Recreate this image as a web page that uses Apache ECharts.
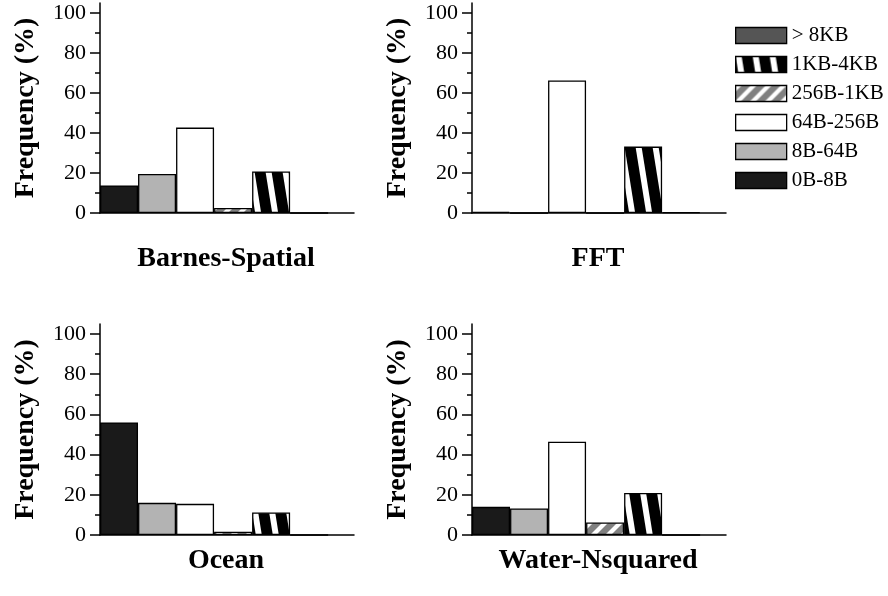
<!DOCTYPE html>
<html>
<head>
<meta charset="utf-8">
<title>Frequency by size class</title>
<script src="https://cdn.jsdelivr.net/npm/echarts@6/dist/echarts.min.js"></script>
<style>
  html, body { margin: 0; padding: 0; background: #fff; }
  #box { width: 888px; height: 596px; }
</style>
</head>
<body>
<div id="box"></div>
<script>
// size classes, in bar order (left to right)
var sizeClasses = ['0B-8B', '8B-64B', '64B-256B', '256B-1KB', '1KB-4KB', '> 8KB'];
// legend lists them top to bottom the other way round
var legendOrder = ['> 8KB', '1KB-4KB', '256B-1KB', '64B-256B', '8B-64B', '0B-8B'];

// frequency (%) per benchmark, same order as sizeClasses
var barnesSpatial = [13.8, 19.5, 42.7, 2.5, 20.8, 0];
var fft = [0.6, 0, 66.3, 0, 33.2, 0.3];
var ocean = [56, 16, 15.5, 1.6, 11.2, 0];
var waterNsquared = [14, 13.2, 46.4, 6.2, 20.9, 0];

var benchNames = ['Barnes-Spatial', 'FFT', 'Ocean', 'Water-Nsquared'];
var benchData = [barnesSpatial, fft, ocean, waterNsquared];

var yLabels = [0, 20, 40, 60, 80, 100];
var yMinorTicks = [10, 30, 50, 70, 90];

var FONT = 'Liberation Serif';

// striped fill, dir '/' or '\\'
function stripes(bg, fg, w, h, s, dir) {
    var c = document.createElement('canvas');
    c.width = w; c.height = h;
    var ctx = c.getContext('2d');
    ctx.fillStyle = bg;
    ctx.fillRect(0, 0, w, h);
    ctx.fillStyle = fg;
    [-w, 0].forEach(function (a) {
        ctx.beginPath();
        if (dir === '/') {
            ctx.moveTo(a, h); ctx.lineTo(a + s, h);
            ctx.lineTo(a + s + w, 0); ctx.lineTo(a + w, 0);
        } else {
            ctx.moveTo(a, 0); ctx.lineTo(a + s, 0);
            ctx.lineTo(a + s + w, h); ctx.lineTo(a + w, h);
        }
        ctx.closePath();
        ctx.fill();
    });
    return { image: c, repeat: 'repeat' };
}

var fills = {
    '0B-8B': '#1a1a1a',
    '8B-64B': '#b3b3b3',
    '64B-256B': '#ffffff',
    '256B-1KB': stripes('#808080', '#ffffff', 15, 15, 6, '/'),
    '1KB-4KB': stripes('#000000', '#ffffff', 17, 106, 6, '\\'),
    '> 8KB': '#555555'
};

// panel placement
var panels = [
    { left: 100, top: 3, height: 210, tx: 226, ty: 259 },
    { left: 472, top: 3, height: 210, tx: 598, ty: 259 },
    { left: 100, top: 324, height: 211, tx: 226, ty: 561 },
    { left: 472, top: 324, height: 211, tx: 598, ty: 561 }
];

var grid = [], xAxis = [], yAxis = [], series = [], title = [];

panels.forEach(function (p, g) {
    grid.push({ left: p.left, top: p.top, width: 254, height: p.height });
    title.push({
        text: benchNames[g], left: p.tx, top: p.ty, padding: 0,
        textAlign: 'center', textVerticalAlign: 'middle',
        textStyle: { fontFamily: FONT, fontSize: 28, fontWeight: 'bold', color: '#000' }
    });
    xAxis.push({
        type: 'value', gridIndex: g, min: 0, max: 6.68,
        axisLine: { lineStyle: { color: '#000', width: 1.5 } },
        axisTick: { show: false }, axisLabel: { show: false }, splitLine: { show: false }
    });
    // main axis: line, labels, long ticks
    yAxis.push({
        type: 'value', gridIndex: g, position: 'left', min: 0, max: 105,
        name: 'Frequency (%)', nameLocation: 'middle', nameGap: 60,
        nameTextStyle: { fontFamily: FONT, fontSize: 28, fontWeight: 'bold', color: '#000' },
        axisLine: { show: true, onZero: false, lineStyle: { color: '#000', width: 1.5 } },
        axisTick: { show: true, length: 10, customValues: yLabels, lineStyle: { color: '#000', width: 1.5 } },
        axisLabel: { customValues: yLabels, margin: 14, fontFamily: FONT, fontSize: 22, color: '#000' },
        splitLine: { show: false }
    });
    // short ticks in between
    yAxis.push({
        type: 'value', gridIndex: g, position: 'left', min: 0, max: 105,
        axisLine: { show: false },
        axisTick: { show: true, length: 5, customValues: yMinorTicks, lineStyle: { color: '#000', width: 1.5 } },
        axisLabel: { show: false }, splitLine: { show: false }
    });

    var vals = benchData[g];
    sizeClasses.forEach(function (name, i) {
        series.push({
            name: name, type: 'bar', xAxisIndex: g, yAxisIndex: g * 2,
            barWidth: 38, barGap: '-100%',
            itemStyle: { color: fills[name], borderColor: '#000', borderWidth: 1.3 },
            data: [[i + 0.5, vals[i]]]
        });
    });
});

var myChart = echarts.init(document.getElementById('box'));
myChart.setOption({
    animation: false,
    title: title,
    grid: grid,
    xAxis: xAxis,
    yAxis: yAxis,
    legend: {
        data: legendOrder, orient: 'vertical', left: 735, top: 25, padding: 0,
        itemWidth: 51, itemHeight: 16, itemGap: 8, icon: 'rect',
        itemStyle: { borderColor: '#000', borderWidth: 1.3 },
        textStyle: { fontFamily: FONT, fontSize: 21, color: '#000' }
    },
    series: series
});
</script>
</body>
</html>
